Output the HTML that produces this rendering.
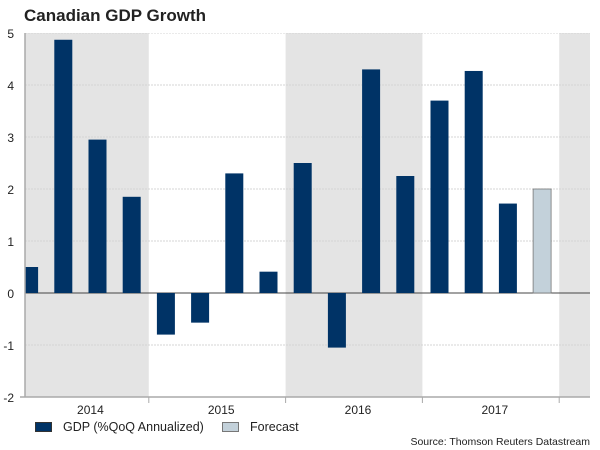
<!DOCTYPE html>
<html><head><meta charset="utf-8"><style>
body{margin:0;background:#fff;font-family:"Liberation Sans",Arial,sans-serif}
svg{display:block}
</style></head><body>
<svg width="600" height="450" id="c">
<text x="24" y="21" font-size="17" font-weight="bold" fill="#222">Canadian GDP Growth</text>
</svg>
<script>
const quarters=["2014Q1","2014Q2","2014Q3","2014Q4","2015Q1","2015Q2","2015Q3","2015Q4","2016Q1","2016Q2","2016Q3","2016Q4","2017Q1","2017Q2","2017Q3","2017Q4"];
const gdp=[0.5,4.87,2.95,1.85,-0.8,-0.57,2.3,0.41,2.5,-1.05,4.3,2.25,3.7,4.27,1.72,null];
const forecast=[null,null,null,null,null,null,null,null,null,null,null,null,null,null,null,2.0];
const years=["2014","2015","2016","2017"];
const yTicks=[-2,-1,0,1,2,3,4,5];
const NS="http://www.w3.org/2000/svg",svg=document.getElementById('c');
const L=25,R=590,T=33,B=397,ymin=-2,ymax=5;
const y=v=>B-(v-ymin)/(ymax-ymin)*(B-T);
const q0=12,qw=34.2;
const x=i=>q0+qw*i+qw/2;
function mk(t,a){const e=document.createElementNS(NS,t);for(const k in a)e.setAttribute(k,a[k]);svg.appendChild(e);return e;}
const clip=mk('clipPath',{id:'pc'});clip.appendChild(document.createElementNS(NS,'rect'));
const cr=clip.firstChild;cr.setAttribute('x',L);cr.setAttribute('y',T);cr.setAttribute('width',R-L);cr.setAttribute('height',B-T);
const g=mk('g',{'clip-path':'url(#pc)'});
function mg(t,a){const e=document.createElementNS(NS,t);for(const k in a)e.setAttribute(k,a[k]);g.appendChild(e);return e;}
for(let yi=0;yi<=years.length;yi++){
  if(yi%2===0){const b=mg('rect',{x:q0+yi*4*qw,y:T,width:4*qw,height:B-T,fill:'#e4e4e4'});
  
  }
}
yTicks.forEach(v=>{
  const l=mg('line',{x1:L,x2:R,y1:y(v),y2:y(v),stroke:v===0?'#444':'#d4d4d4','stroke-width':1,'stroke-dasharray':v===0?'':'2,1'});
  
  
  const t=mk('text',{x:14,y:y(v)+5,'font-size':12,'text-anchor':'end',fill:'#222'});t.textContent=v;
  
  
});
gdp.forEach((v,i)=>{if(v==null)return;
  const r=mg('rect',{x:x(i)-9,y:Math.min(y(v),y(0)),width:18,height:Math.abs(y(v)-y(0)),fill:'#003366'});
  
  });
forecast.forEach((v,i)=>{if(v==null)return;
  const r=mg('rect',{x:x(i)-9,y:Math.min(y(v),y(0)),width:18,height:Math.abs(y(v)-y(0)),fill:'#c3d1da',stroke:'#777','stroke-width':0.8});
  
  });
const ax=mk('line',{x1:L,x2:L,y1:T,y2:B,stroke:'#aaa','stroke-width':1.5});


const bx=mk('line',{x1:L-5,x2:R,y1:B,y2:B,stroke:'#aaa','stroke-width':1.5});


for(let yi=1;yi<=years.length;yi++){const xx=q0+yi*4*qw;
  const t=mk('line',{x1:xx,x2:xx,y1:B,y2:B+6,stroke:'#aaa'});
  
  }
years.forEach((yr,i)=>{const t=mk('text',{x:q0+i*4*qw+2*qw+4+(i===0?6:0),y:B+17,'font-size':12,'text-anchor':'middle',fill:'#222'});t.textContent=yr;
  
  });
</script>
<div style="position:absolute;left:0;top:0;width:600px;height:450px;font-size:12.5px;color:#222">
<div style="position:absolute;left:35px;top:420px;display:flex;align-items:center"><span style="display:inline-block;width:15px;height:8px;background:#003366;border:1px solid #333;margin-right:11px"></span>GDP (%QoQ Annualized)</div>
<div style="position:absolute;left:222px;top:420px;display:flex;align-items:center"><span style="display:inline-block;width:15px;height:8px;background:#c3d1da;border:1px solid #777;margin-right:11px"></span>Forecast</div>
<div style="position:absolute;right:10px;top:436px;font-size:10.5px">Source: Thomson Reuters Datastream</div>
</div>
</body></html>
